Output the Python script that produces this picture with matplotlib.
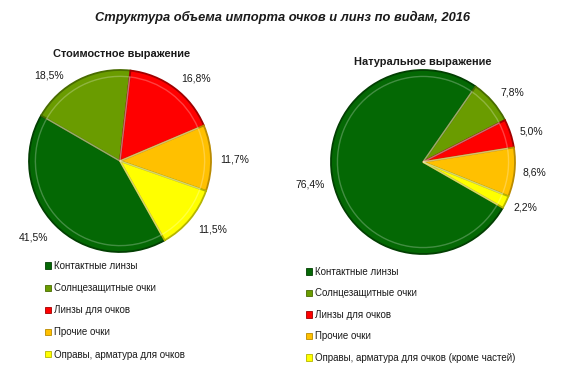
import matplotlib
matplotlib.use("Agg")
import matplotlib.pyplot as plt
from matplotlib.patches import Patch
import numpy as np

title = "Структура объема импорта очков и линз по видам, 2016"
subtitle_left = "Стоимостное выражение"
subtitle_right = "Натуральное выражение"

categories_left = ["Контактные линзы", "Солнцезащитные очки", "Линзы для очков",
                   "Прочие очки", "Оправы, арматура для очков"]
categories_right = ["Контактные линзы", "Солнцезащитные очки", "Линзы для очков",
                    "Прочие очки", "Оправы, арматура для очков (кроме частей)"]
values_left = [41.5, 18.5, 16.8, 11.7, 11.5]
values_right = [76.4, 7.8, 5.0, 8.6, 2.2]

colors = ["#046804", "#6A9C00", "#FF0000", "#FFC000", "#FFFF00"]
edge_colors = ["#023F02", "#486B00", "#A00000", "#B98A00", "#B5B500"]

# label placement (angle nudge in degrees, distance in radii), "best fit" style
label_place_left = [(-3.2, 1.27), (13.3, 1.22), (-5.7, 1.23), (-0.9, 1.26), (3.4, 1.27)]
label_place_right = [(-1.2, 1.25), (-3.2, 1.23), (-2.1, 1.22), (0.8, 1.22), (2.2, 1.22)]

W, H = 565, 373
plt.rcParams['font.family'] = ['Liberation Sans', 'DejaVu Sans']

fig = plt.figure(figsize=(W / 100, H / 100), dpi=100)
fig.patch.set_facecolor("white")


def pie_axes(cx, cy, R):
    return fig.add_axes([(cx - R) / W, 1 - (cy + R) / H, 2 * R / W, 2 * R / H])


def draw_pie(ax, values, startangle, placement):
    wedges, _ = ax.pie(values, colors=colors, startangle=startangle,
                       counterclock=False, radius=1.0,
                       wedgeprops=dict(linewidth=1.3))
    for w, ec in zip(wedges, edge_colors):
        w.set_edgecolor(ec)
    ax.pie(values, colors=["none"] * len(values), startangle=startangle,
           counterclock=False, radius=0.93,
           wedgeprops=dict(linewidth=1.0, edgecolor=(1, 1, 1, 0.25), fill=False))
    for w, v, (dang, dist) in zip(wedges, values, placement):
        ang = np.deg2rad((w.theta1 + w.theta2) / 2 + dang)
        ax.text(dist * np.cos(ang), dist * np.sin(ang),
                f"{v:.1f}%".replace(".", ","), ha="center", va="center",
                fontsize=7.5, color="#1a1a1a", clip_on=False)
    ax.set_xlim(-1, 1)
    ax.set_ylim(-1, 1)
    ax.set_aspect("equal")
    ax.axis("off")
    return wedges


axL = pie_axes(120, 161, 91)
draw_pie(axL, values_left, -60.6, label_place_left)
axR = pie_axes(423, 162, 92)
draw_pie(axR, values_right, -29.8, label_place_right)

fig.text(0.5, 1 - 17 / H, title, ha="center", va="center",
         fontsize=9.3, fontweight="bold", fontstyle="italic", color="#1a1a1a")
fig.text(122 / W, 1 - 54 / H, subtitle_left, ha="center", va="center",
         fontsize=7.9, fontweight="bold", color="#1a1a1a")
fig.text(423 / W, 1 - 62 / H, subtitle_right, ha="center", va="center",
         fontsize=7.9, fontweight="bold", color="#1a1a1a")


def legend(cats, x, y_top, spacing):
    handles = [Patch(facecolor=c, edgecolor=e, linewidth=0.6) for c, e in zip(colors, edge_colors)]
    leg = fig.legend(handles, cats, loc="upper left",
                     bbox_to_anchor=(x / W, 1 - y_top / H), frameon=False,
                     fontsize=7, handlelength=0.6, handleheight=0.6,
                     handletextpad=0.3, labelspacing=spacing, borderaxespad=0,
                     borderpad=0)
    for t in leg.get_texts():
        t.set_color("#1a1a1a")


legend(categories_left, 45, 261, 1.25)
legend(categories_right, 306, 267, 1.18)

fig.savefig("out.png", dpi=100, facecolor="white")
